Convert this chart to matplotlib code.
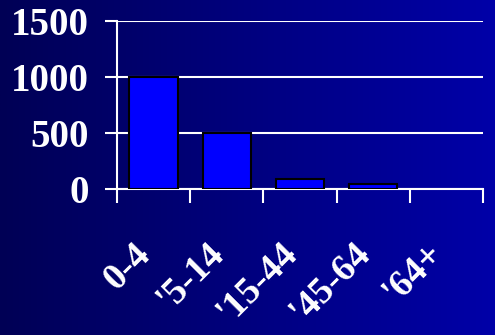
import matplotlib.pyplot as plt
import matplotlib.transforms as mtransforms
from matplotlib.colors import LinearSegmentedColormap
import numpy as np

categories = ["0-4", "'5-14", "'15-44", "'45-64", "'64+"]
values = [1000, 500, 85, 40, 0]
yticks = [0, 500, 1000, 1500]

plt.rcParams['font.family'] = ['Liberation Serif', 'DejaVu Serif']

fig = plt.figure(figsize=(4.95, 3.35), dpi=100)

# gradient background
bg = fig.add_axes([0, 0, 1, 1], zorder=0)
grad = np.linspace(0, 1, 256).reshape(1, -1)
cmap = LinearSegmentedColormap.from_list('bg', ['#000055', '#0000A8'])
bg.imshow(grad, aspect='auto', cmap=cmap, extent=[0, 1, 0, 1])
bg.axis('off')

ax = fig.add_axes([0.236, 0.436, 0.740, 0.501], zorder=1)
ax.patch.set_alpha(0)

x = np.arange(len(categories))
edges = ['black' if v > 0 else 'none' for v in values]
ax.bar(x, values, width=0.66, color='#0000FF', edgecolor=edges, linewidth=1.5, zorder=3)

ax.set_xlim(-0.5, len(categories) - 0.5)
ax.set_ylim(0, 1500)
ax.set_yticks(yticks)
ax.yaxis.grid(True, color='white', linewidth=1.5, zorder=1)
ax.set_axisbelow(True)

for s in ['top', 'right']:
    ax.spines[s].set_visible(False)
ax.spines['left'].set_color('white')
ax.spines['left'].set_linewidth(1.5)
ax.spines['bottom'].set_color('white')
ax.spines['bottom'].set_linewidth(1.5)

ax.tick_params(axis='y', colors='white', length=9, width=1.5, labelsize=28, pad=11)
for lbl in ax.get_yticklabels():
    lbl.set_fontweight('bold')

# boundary ticks below axis, labels at centres
ax.set_xticks(np.arange(len(categories) + 1) - 0.5, minor=True)
ax.set_xticks(x)
ax.set_xticklabels(categories, rotation=45, ha='right', rotation_mode='anchor',
                   fontsize=27, fontweight='bold', color='white')
ax.tick_params(axis='x', which='minor', colors='white', length=10, width=1.5)
ax.tick_params(axis='x', which='major', length=0, pad=34)
offset = mtransforms.ScaledTranslation(-21 / 100, 0, fig.dpi_scale_trans)
for lbl in ax.get_xticklabels():
    lbl.set_transform(lbl.get_transform() + offset)

plt.savefig('out.png', dpi=100)
